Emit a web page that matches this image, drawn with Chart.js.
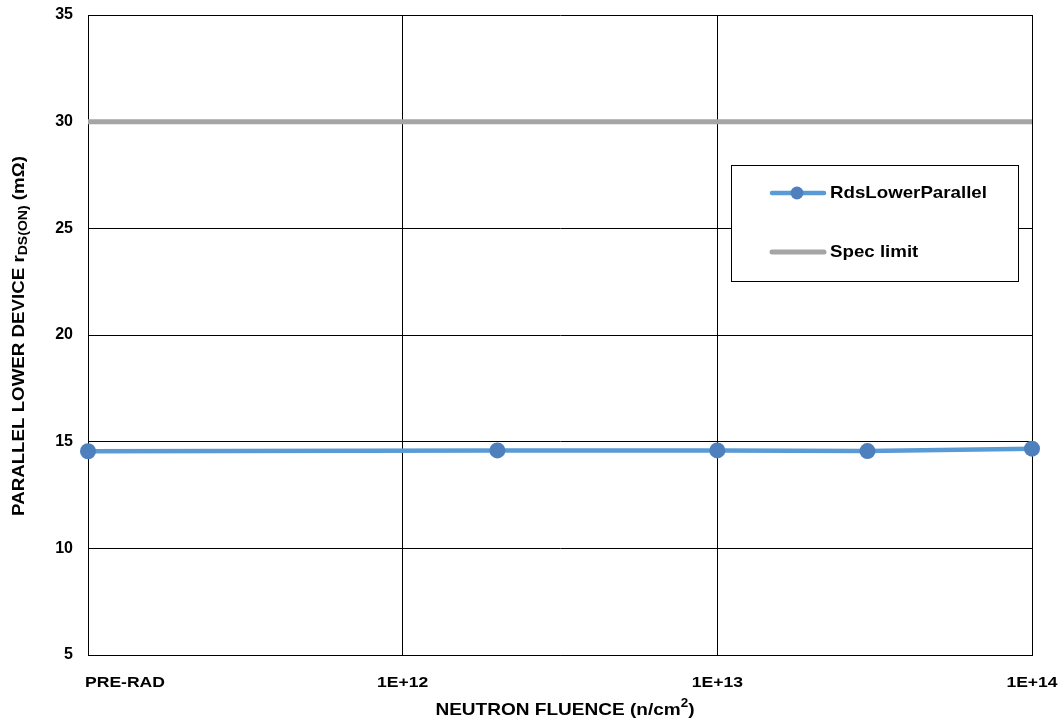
<!DOCTYPE html>
<html>
<head>
<meta charset="utf-8">
<script src="https://cdn.jsdelivr.net/npm/chart.js@4/dist/chart.umd.min.js"></script>
<style>
  html, body { margin: 0; padding: 0; background: #fff; }
  #wrap { width: 1063px; height: 723px; position: relative; }
</style>
</head>
<body>
<div id="wrap"><canvas id="c" width="1063" height="723"></canvas></div>
<script>
// ---- data ----
const tickValues = [1e11, 1e12, 1e13, 1e14];
const tickLabels = ['PRE-RAD', '1E+12', '1E+13', '1E+14'];
const fluence = [1e11, 2e12, 1e13, 3e13, 1e14];
const rdsLowerParallel = [14.55, 14.59, 14.59, 14.56, 14.67];
const specX = [1e11, 1e14];
const specLimit = [30, 30];
const seriesNames = ['RdsLowerParallel', 'Spec limit'];
const yTitle = ['PARALLEL LOWER DEVICE r', 'DS(ON)', ' (m\u03A9)'];
const xTitle = ['NEUTRON FLUENCE (n/cm', '2', ')'];

const FONT = '"Liberation Sans", Arial, sans-serif';
const BLUE = '#5B9BD5';
const MARK = '#4E80BD';
const GRAY = '#A5A5A5';

function drawText(ctx, s, x, y, size, align, sx) {
  ctx.save();
  ctx.font = 'bold ' + size + 'px ' + FONT;
  ctx.fillStyle = '#000';
  ctx.translate(x, y);
  ctx.scale(sx, 1);
  ctx.textAlign = align;
  ctx.textBaseline = 'middle';
  ctx.fillText(s, 0, 0);
  ctx.restore();
}

const textPlugin = {
  id: 'textPlugin',
  afterDraw(chart) {
    const ctx = chart.ctx;
    const xs = chart.scales.x;
    // x tick labels
    tickValues.forEach((v, i) => {
      const px = xs.getPixelForValue(v);
      if (i === 0) drawText(ctx, tickLabels[i], px - 3, 683, 15, 'left', 1.17);
      else drawText(ctx, tickLabels[i], px, 683, 15, 'center', 1.17);
    });
    // x title with superscript
    ctx.save();
    const sx = 1.12;
    ctx.font = 'bold 17px ' + FONT;
    const w1 = ctx.measureText(xTitle[0]).width;
    const w3 = ctx.measureText(xTitle[2]).width;
    ctx.font = 'bold 12px ' + FONT;
    const w2 = ctx.measureText(xTitle[1]).width;
    const total = (w1 + w2 + w3) * sx;
    const cx = (chart.chartArea.left + chart.chartArea.right) / 2 + 5;
    let x0 = cx - total / 2;
    drawText(ctx, xTitle[0], x0, 710, 17, 'left', sx);
    x0 += w1 * sx;
    drawText(ctx, xTitle[1], x0, 704, 12, 'left', sx);
    x0 += w2 * sx;
    drawText(ctx, xTitle[2], x0, 710, 17, 'left', sx);
    ctx.restore();

    // y title rotated with subscript
    ctx.save();
    const sy = 1.17;
    ctx.font = 'bold 16px ' + FONT;
    const a1 = ctx.measureText(yTitle[0]).width;
    const a3 = ctx.measureText(yTitle[2]).width;
    ctx.font = 'bold 12px ' + FONT;
    const a2 = ctx.measureText(yTitle[1]).width;
    const tot = (a1 + a2 + a3) * sy;
    const cy = (chart.chartArea.top + chart.chartArea.bottom) / 2 + 1;
    ctx.translate(20, cy);
    ctx.rotate(-Math.PI / 2);
    let p = -tot / 2;
    drawText(ctx, yTitle[0], p, 0, 16, 'left', sy);
    p += a1 * sy;
    drawText(ctx, yTitle[1], p, 4, 12, 'left', sy);
    p += a2 * sy;
    drawText(ctx, yTitle[2], p, 0, 16, 'left', sy);
    ctx.restore();

    // legend box
    ctx.save();
    ctx.fillStyle = '#fff';
    ctx.fillRect(731, 165, 287, 116);
    ctx.strokeStyle = '#000';
    ctx.lineWidth = 1;
    ctx.strokeRect(731.5, 165.5, 287, 116);
    const ds = chart.data.datasets;
    const rows = [193, 252];
    rows.forEach((ry, i) => {
      ctx.beginPath();
      ctx.strokeStyle = ds[i].borderColor;
      ctx.lineWidth = ds[i].borderWidth;
      ctx.lineCap = 'round';
      ctx.moveTo(772, ry);
      ctx.lineTo(824, ry);
      ctx.stroke();
      if (ds[i].pointRadius > 0) {
        ctx.beginPath();
        ctx.fillStyle = ds[i].pointBackgroundColor;
        ctx.arc(797, ry, 6.5, 0, Math.PI * 2);
        ctx.fill();
      }
      drawText(ctx, ds[i].label, 830, ry, 17, 'left', 1.1);
    });
    ctx.restore();
  }
};

const ctx = document.getElementById('c').getContext('2d');
new Chart(ctx, {
  type: 'line',
  data: {
    datasets: [
      {
        label: seriesNames[0],
        data: fluence.map((x, i) => ({ x: x, y: rdsLowerParallel[i] })),
        borderColor: BLUE,
        borderWidth: 4.5,
        pointRadius: 8,
        pointHoverRadius: 8,
        pointBackgroundColor: MARK,
        pointBorderColor: MARK,
        pointBorderWidth: 0,
        tension: 0,
        clip: false,
        order: 0
      },
      {
        label: seriesNames[1],
        data: specX.map((x, i) => ({ x: x, y: specLimit[i] })),
        borderColor: GRAY,
        borderWidth: 5,
        pointRadius: 0,
        tension: 0,
        clip: false,
        order: 1
      }
    ]
  },
  options: {
    responsive: false,
    animation: false,
    devicePixelRatio: 1,
    layout: { padding: { left: 0, right: 31, top: 15, bottom: 0 } },
    plugins: { legend: { display: false }, tooltip: { enabled: false } },
    scales: {
      x: {
        type: 'logarithmic',
        min: tickValues[0],
        max: tickValues[tickValues.length - 1],
        afterBuildTicks(scale) { scale.ticks = tickValues.map(v => ({ value: v })); },
        afterFit(scale) { scale.height = 68; scale.paddingLeft = 0; scale.paddingRight = 0; },
        ticks: { display: false },
        grid: { color: '#000', lineWidth: 1, drawTicks: false },
        border: { color: '#000', width: 1 }
      },
      y: {
        min: 5,
        max: 35,
        afterFit(scale) { scale.width = 88; scale.paddingTop = 0; scale.paddingBottom = 0; },
        ticks: {
          stepSize: 5,
          padding: 15,
          color: '#000',
          font: { family: FONT, size: 16, weight: 'bold' }
        },
        grid: { color: '#000', lineWidth: 1, drawTicks: false },
        border: { color: '#000', width: 1 }
      }
    }
  },
  plugins: [textPlugin]
});
</script>
</body>
</html>
